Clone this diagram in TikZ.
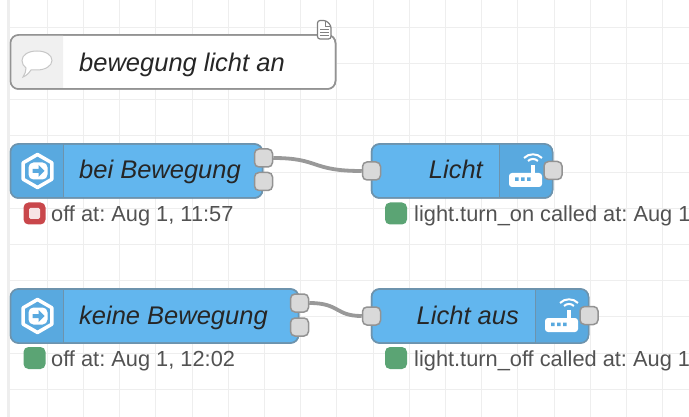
\documentclass[tikz,border=0pt]{standalone}
\usepackage{fontspec}
\setmainfont{Liberation Sans}
\usetikzlibrary{calc}
\definecolor{flowblue}{HTML}{62B6EE}
\definecolor{panelblue}{HTML}{59A9DF}
\definecolor{edgeblue}{HTML}{6D93AD}
\definecolor{gridgray}{HTML}{EEEEEE}
\definecolor{portgray}{HTML}{D9D9D9}
\definecolor{wiregray}{HTML}{999999}
\definecolor{statusgreen}{HTML}{5BA474}
\definecolor{statusred}{HTML}{C9474B}
\tikzset{
    flownode/.style={draw=edgeblue, fill=flowblue, line width=1.5pt, rounded corners=8pt, inner sep=0pt},
    commentnode/.style={flownode, draw=gray!85, fill=white},
    port/.style={draw=gray!85, fill=portgray, line width=1.5pt, rounded corners=4.5pt, minimum width=18pt, minimum height=18pt, inner sep=0pt},
    wire/.style={draw=wiregray, line width=3.8pt},
    title/.style={font=\fontsize{25.5}{26}\selectfont\itshape, text=black!85, inner sep=0pt, anchor=base west},
    statustext/.style={font=\fontsize{21.8}{22}\selectfont\frenchspacing, text=black!68, inner sep=0pt, anchor=base west},
    statusdot/.style={rounded corners=5pt, minimum width=22pt, minimum height=22pt, inner sep=0pt},
    pics/hexicon/.style={code={
        \draw[white, line width=3.5pt, line join=round] (90:16.5) -- (30:16.5) -- (-30:16.5) -- (-90:16.5) -- (-150:16.5) -- (150:16.5) -- cycle;
        \fill[white, rounded corners=5pt] (-9,-8.5) rectangle (10,8.5);
        \fill[panelblue] (-5,-2) -- (1,-2) -- (1,-6) -- (7,0) -- (1,6) -- (1,2) -- (-5,2) -- cycle;
    }},
    pics/wifiicon/.style={code={
        \fill[white, rounded corners=3pt] (-17,16) rectangle (16,2);
        \fill[white] (5,3) rectangle (9,-6);
        \fill[panelblue] (-11,6.5) rectangle (-7.5,10) (-5,6.5) rectangle (-1.5,10) (1,6.5) rectangle (4.5,10);
        \draw[white, line width=2pt] (2,-10) arc[start angle=225, end angle=315, radius=7];
        \draw[white, line width=2pt] (-2,-13) arc[start angle=225, end angle=315, radius=12.7];
    }},
}
\begin{document}
\begin{tikzpicture}[x=1pt, y=-1pt]
    \useasboundingbox (0,0) rectangle (689,417);
    % canvas
    \foreach \gx in {47,83.2,...,689} \draw[gridgray] (\gx,0) -- (\gx,417);
    \foreach \gy in {27,63.2,99.4,135.6,171.8,208,244.2,280.4,316.6,352.8,389} \draw[gridgray] (8,\gy) -- (689,\gy);
    \fill[gridgray] (7,0) rectangle (10,417);

    % comment
    \node[commentnode, minimum width=325pt, minimum height=54pt] (note) at (173,62) {};
    \fill[gray!12] (63,35.5) -- (63,88.5) [rounded corners=8pt] -- (11,88.5) -- (11,35.5) [sharp corners] -- cycle;
    \node[commentnode, fill=none, minimum width=325pt, minimum height=54pt] at (note) {};
    \node[title] (notelabel) at (79,71.5) {bewegung licht an};
    \draw[gray!45, line width=1pt, fill=white] (37,51) .. controls (46,51) and (52,55) .. (52,60.5) .. controls (52,66) and (45,70) .. (37,70) .. controls (34,70) and (33,70) .. (31,70) .. controls (29,73) and (26,76) .. (23,77) .. controls (25,74) and (26,71) .. (26,68) .. controls (23.5,66) and (22,63.5) .. (22,60.5) .. controls (22,55) and (28,51) .. (37,51) -- cycle;
    \draw[gray, line width=1.2pt, rounded corners=2.5pt, fill=white] (317.5,20.5) -- (326,20.5) -- (331,25.5) -- (331,39) -- (317.5,39) -- cycle;
    \draw[gray] (325,21) -- (325,26.5) -- (330.5,26.5);
    \draw[gray] (320,29) -- (328.5,29) (320,32) -- (328.5,32) (320,35) -- (328.5,35);

    % first flow
    \node[flownode, minimum width=252pt, minimum height=54pt] (motion) at (136.5,171) {};
    \fill[panelblue] (63,144) -- (63,198) [rounded corners=8pt] -- (11,198) -- (11,144) [sharp corners] -- cycle;
    \draw[edgeblue] (63,144) -- (63,198);
    \node[flownode, fill=none, minimum width=252pt, minimum height=54pt] at (motion) {};
    \pic at (37.5,171) {hexicon};
    \node[title] (motionlabel) at (79,179) {bei Bewegung};
    \node[port] (motionout) at (263.5,158) {};
    \node[port] (motionalt) at (263.5,181.5) {};

    \node[flownode, minimum width=181pt, minimum height=54pt] (light) at (462,171) {};
    \fill[panelblue] (499,144) -- (499,198) [rounded corners=8pt] -- (552.5,198) -- (552.5,144) [sharp corners] -- cycle;
    \draw[edgeblue] (499,144) -- (499,198);
    \node[flownode, fill=none, minimum width=181pt, minimum height=54pt] at (light) {};
    \pic at (526,171) {wifiicon};
    \node[title, anchor=base east] (lightlabel) at (483,179) {Licht};
    \node[port] (lightin) at (371.5,171) {};
    \node[port] (lightout) at (553,170.5) {};

    \draw[wire] (motionout.east) .. controls (320,158) and (310,171) .. (lightin.west);

    \node[statusdot, fill=statusred] (motionstate) at (34.5,213.5) {};
    \node[fill=white!85!statusred, minimum size=11pt, inner sep=0pt, rounded corners=1.5pt] at (motionstate) {};
    \node[statustext] (motiontext) at (51,222) {off at: Aug 1, 11:57};
    \node[statusdot, fill=statusgreen] (lightstate) at (396,213.5) {};
    \node[statustext] (lighttext) at (414,222) {light.turn\_on called at: Aug 1};

    % second flow
    \node[flownode, minimum width=288pt, minimum height=54pt] (still) at (154.5,316) {};
    \fill[panelblue] (63,289) -- (63,343) [rounded corners=8pt] -- (11,343) -- (11,289) [sharp corners] -- cycle;
    \draw[edgeblue] (63,289) -- (63,343);
    \node[flownode, fill=none, minimum width=288pt, minimum height=54pt] at (still) {};
    \pic at (37.5,316) {hexicon};
    \node[title] (stilllabel) at (79,324) {keine Bewegung};
    \node[port] (stillout) at (299.5,303) {};
    \node[port] (stillalt) at (299.5,327) {};

    \node[flownode, minimum width=217pt, minimum height=54pt] (lightoff) at (480,316) {};
    \fill[panelblue] (535,289) -- (535,343) [rounded corners=8pt] -- (588.5,343) -- (588.5,289) [sharp corners] -- cycle;
    \draw[edgeblue] (535,289) -- (535,343);
    \node[flownode, fill=none, minimum width=217pt, minimum height=54pt] at (lightoff) {};
    \pic at (562,316) {wifiicon};
    \node[title, anchor=base east] (lightofflabel) at (519,324) {Licht aus};
    \node[port] (lightoffin) at (371.5,316) {};
    \node[port] (lightoffout) at (589,315.5) {};

    \draw[wire] (stillout.east) .. controls (340,303) and (335,316) .. (lightoffin.west);

    \node[statusdot, fill=statusgreen] (stillstate) at (34.5,358) {};
    \node[statustext] (stilltext) at (51,366.5) {off at: Aug 1, 12:02};
    \node[statusdot, fill=statusgreen] (lightoffstate) at (396,358) {};
    \node[statustext] (lightofftext) at (414,366.5) {light.turn\_off called at: Aug 1};
\end{tikzpicture}
\end{document}
